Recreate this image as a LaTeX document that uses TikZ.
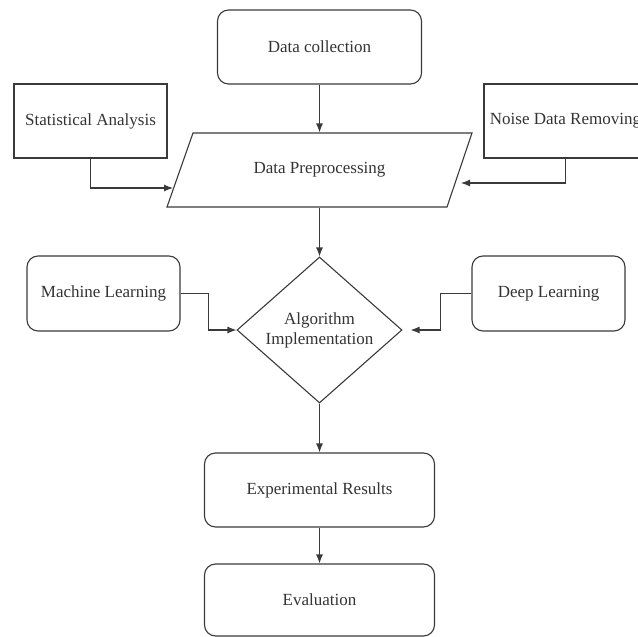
\documentclass[tikz,border=0pt]{standalone}
\usepackage{fontspec}
\setmainfont{Liberation Serif}
\usetikzlibrary{shapes.geometric,arrows.meta}
\definecolor{ln}{HTML}{3A3A3A}
\definecolor{tx}{HTML}{333333}
\tikzset{
  box/.style={draw=ln, line width=1.1pt, minimum height=74pt, inner sep=0pt, text=tx, font=\fontsize{17}{20}\selectfont},
  rbox/.style={box, rounded corners=11pt},
  arr/.style={draw=ln, line width=1.1pt, -{Latex[length=9pt,width=7pt]}},
}
\begin{document}
\begin{tikzpicture}[x=1pt,y=-1pt]
\useasboundingbox (0,0) rectangle (638,637);
\clip (0,0) rectangle (638,637);
\node[rbox, minimum width=204pt] (dc) at (319.5,47) {Data collection};
\node[box, minimum width=153pt] (sa) at (90.5,121) {Statistical Analysis};
\node[box, minimum width=163pt] (ndr) at (565.5,121) {Noise Data Removing};
\draw[draw=ln, line width=1.1pt] (193,133) -- (472,133) -- (447,207) -- (167,207) -- cycle;
\node[box, draw=none, minimum width=250pt] (dp) at (319.5,170) {Data Preprocessing};
\coordinate (dpL) at (173,188);
\coordinate (dpR) at (461,183);
\node[rbox, minimum width=153pt, minimum height=75pt] (ml) at (103.5,293.5) {Machine Learning};
\node[rbox, minimum width=153pt, minimum height=75pt] (dl) at (548.5,293.5) {Deep Learning};
\node[box, diamond, minimum width=165pt, minimum height=146pt, align=center] (alg) at (319.5,330) {Algorithm\\Implementation};
\node[rbox, minimum width=230pt] (er) at (319.5,490) {Experimental Results};
\node[rbox, minimum width=230pt, minimum height=72pt] (ev) at (319.5,600) {Evaluation};
\draw[arr] (dc.south) -- (dp.north);
\draw[arr] (sa.south) |- (dpL);
\draw[arr] (ndr.south) |- (dpR);
\draw[arr] (dp.south) -- (alg.north);
\draw[arr] (ml.east) -- ++(28,0) |- (alg.west);
\draw[arr, shorten >=8pt] (dl.west) -- ++(-31,0) |- (alg.east);
\draw[arr] (alg.south) -- (er.north);
\draw[arr] (er.south) -- (ev.north);
\end{tikzpicture}
\end{document}
